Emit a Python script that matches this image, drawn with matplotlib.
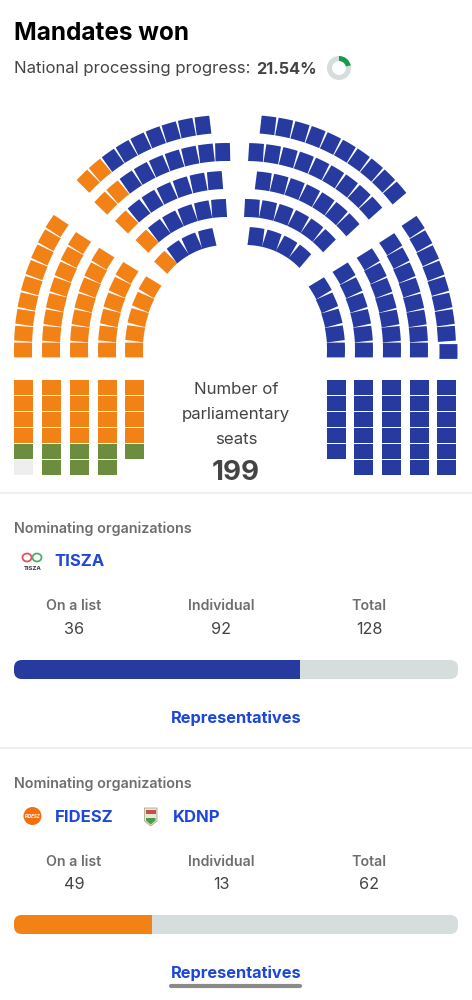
import numpy as np
import matplotlib
matplotlib.use("Agg")
import matplotlib.pyplot as plt
from matplotlib.patches import Polygon, Rectangle, Wedge, Ellipse, FancyBboxPatch

plt.rcParams['font.family'] = ['Inter', 'DejaVu Sans']

# seat data, rows go outer to inner
lower_left_seats = [9, 8, 7, 6, 5]
upper_left_seats = [9, 9, 7, 6, 4]
upper_left_orange = [2, 2, 1, 1, 1]
upper_right_seats = [10, 9, 7, 6, 4]
lower_right_seats = [9, 8, 7, 6, 5]
block_left_orange = [4, 4, 4, 4, 4]
block_left_green = [1, 2, 2, 2, 1]
block_left_empty = [1, 0, 0, 0, 0]
block_right_blue = [5, 6, 6, 6, 6]

progress = 21.54
total_seats = 199
column_names = ["On a list", "Individual", "Total"]
tisza_values = [36, 92, 128]
fidesz_values = [49, 13, 62]

BLUE = "#263a9f"
ORANGE = "#f28216"
GREEN = "#6c8c3e"
EMPTY = "#eeeeee"
TRACK = "#d5dddd"
LINK = "#1c47d8"
DARK = "#444444"
GREY = "#6e6e6e"

# layout, in pixels. each wing has its own arc centre
LOW_Y = 350
LOW_LEFT_X, LOW_RIGHT_X = 266, 206
LOW_LEFT_R = [243, 215, 187, 159, 132]
LOW_RIGHT_R = [241, 213, 186, 158, 130]
LOW_TOP = [30.7, 29.8, 29.2, 29.0, 28.4]
UP_Y = 320
UP_LEFT_X, UP_RIGHT_X = 226.5, 245.5
UP_R = [196, 168, 140, 112, 84]
UL_ANGLES = [(134.9, 96.9), (135.9, 91.3), (135.5, 94.7), (135.2, 93.8), (136.5, 103.3)]
UR_ANGLES = [(83.4, 40.4), (86.4, 41.8), (82.7, 42.9), (86.7, 45.2), (82.8, 49.6)]
SEAT_R, SEAT_T = 18, 14.8
LOW_TILT = 1.1

fig = plt.figure(figsize=(4.72, 10), dpi=100)
ax = fig.add_axes([0, 0, 1, 1])
ax.set_xlim(0, 472)
ax.set_ylim(1000, 0)
ax.axis("off")


def seat(cx, cy, radius, angle, color, facing=None, dx=0, dy=0):
    # facing is the direction the seat points at, it differs a bit from angle on the low wings
    if facing is None:
        facing = angle
    a = np.deg2rad(angle)
    f = np.deg2rad(facing)
    sx = cx + radius * np.cos(a) + dx
    sy = cy - radius * np.sin(a) + dy
    s = np.linspace(-SEAT_T / 2, SEAT_T / 2, 5)
    bend = -s ** 2 / (2 * radius)
    pts = []
    for off, sgn in [(SEAT_R / 2, 1), (-SEAT_R / 2, -1)]:
        u = off + bend
        for ui, si in list(zip(u, s))[::sgn]:
            pts.append((sx + ui * np.cos(f) - si * np.sin(f), sy - ui * np.sin(f) - si * np.cos(f)))
    ax.add_patch(Polygon(pts, closed=True, fc=color, ec="none"))


def block_seat(x, y, color):
    ax.add_patch(Rectangle((x - 9.5, y - 7.5), 19, 15, fc=color, ec="none"))


# curved rows
for i, n in enumerate(lower_left_seats):
    for a in np.linspace(0, LOW_TOP[i], n):
        seat(LOW_LEFT_X, LOW_Y, LOW_LEFT_R[i], 180 - a, ORANGE, facing=180 - a * LOW_TILT)

for i, n in enumerate(upper_left_seats):
    angles = np.linspace(UL_ANGLES[i][0], UL_ANGLES[i][1], n)
    for j, a in enumerate(angles):
        seat(UP_LEFT_X, UP_Y, UP_R[i], a, ORANGE if j < upper_left_orange[i] else BLUE)

for i, n in enumerate(upper_right_seats):
    for a in np.linspace(UR_ANGLES[i][0], UR_ANGLES[i][1], n):
        seat(UP_RIGHT_X, UP_Y, UP_R[i], a, BLUE)

for i, n in enumerate(lower_right_seats):
    angles = np.linspace(LOW_TOP[i], 0, n)
    for j, a in enumerate(angles):
        # the last outer seat sits a bit off the arc in the original
        nudge = (1.5, 1.5) if i == 0 and j == n - 1 else (0, 0)
        seat(LOW_RIGHT_X, LOW_Y, LOW_RIGHT_R[i], a, BLUE, facing=a * LOW_TILT, dx=nudge[0], dy=nudge[1])

# straight blocks under the arcs
row_y = 387 + 16.15 * np.arange(6)
left_x = [23.5, 51.5, 79.5, 107, 134.5]
right_x = [336, 363.5, 391.5, 419, 446]
for col, x in enumerate(left_x):
    colors = [ORANGE] * block_left_orange[col] + [GREEN] * block_left_green[col] + [EMPTY] * block_left_empty[col]
    for y, c in zip(row_y, colors):
        block_seat(x, y, c)
for col, x in enumerate(right_x):
    for y in row_y[:block_right_blue[col]]:
        block_seat(x, y, BLUE)

# header
ax.text(14, 33, "Mandates won", fontsize=17.5, fontweight="bold", color="black", va="center")
ax.text(14, 69, "National processing progress:", fontsize=12, color=DARK, va="center")
ax.text(256, 69, f"{progress}%", fontsize=11.7, fontweight="bold", color=DARK, va="center")
ax.add_patch(Wedge((339, 68), 12, 0, 360, width=5, fc=TRACK, ec="none"))
ax.add_patch(Wedge((339, 68), 12, -90, -90 + 3.6 * progress, width=5, fc="#1a9a4f", ec="none"))

# centre label
for y, line in zip([389.5, 414.5, 439.5], ["Number of", "parliamentary", "seats"]):
    ax.text(236, y, line, fontsize=12.1, color=DARK, ha="center", va="center")
ax.text(236, 473.5, str(total_seats), fontsize=20, fontweight="bold", color=DARK, ha="center", va="center")


def party_panel(top, values, color):
    ax.text(14, top + 37, "Nominating organizations", fontsize=10.3, fontweight="semibold", color=GREY, va="center")
    for x, name, val in zip([74, 221, 369], column_names, values):
        ax.text(x, top + 114.5, name, fontsize=10.2, fontweight="semibold", color=GREY, ha="center", va="center")
        ax.text(x, top + 137.5, str(val), fontsize=11.7, color=DARK, ha="center", va="center")
    track = FancyBboxPatch((14, top + 168), 444, 19, boxstyle="round,pad=0,rounding_size=8",
                           fc=TRACK, ec="none", mutation_aspect=1)
    ax.add_patch(track)
    bars = ax.barh(top + 177.5, values[2] / total_seats * 444, left=14, height=19, color=color)
    bars[0].set_clip_path(track)
    ax.text(236, top + 226, "Representatives", fontsize=11.8, fontweight="bold", color=LINK, ha="center", va="center")


ax.plot([0, 472], [492.5, 492.5], color="#efefef", lw=1.5)
party_panel(492, tisza_values, BLUE)
ax.plot([0, 472], [747.5, 747.5], color="#efefef", lw=1.5)
party_panel(747, fidesz_values, ORANGE)

# TISZA logo
ax.add_patch(Ellipse((27, 557.5), 9, 8, fc="none", ec="#e8505b", lw=1.3))
ax.add_patch(Ellipse((37, 557.5), 9, 8, fc="none", ec="#4fae6a", lw=1.3))
ax.text(32.5, 568, "TISZA", fontsize=4.3, fontweight="bold", color="#263238", ha="center", va="center")
ax.text(54.5, 562, "TISZA", fontsize=12, fontweight="bold", color=LINK, va="center")

# FIDESZ and KDNP logos
ax.add_patch(Ellipse((32.5, 816), 18, 18, fc="#f4700f", ec="none"))
ax.text(32.5, 816, "FIDESZ", fontsize=3.2, fontweight="bold", style="italic", color="white", ha="center", va="center")
ax.text(54.5, 817, "FIDESZ", fontsize=12, fontweight="bold", color=LINK, va="center")

ax.add_patch(Polygon([(144.5, 808), (157, 808), (157, 821), (150.7, 826), (144.5, 821)], closed=True,
                     fc="#e9e6d8", ec="#a9a98a", lw=0.6))
ax.add_patch(Rectangle((146, 809.5), 9.5, 4, fc="#c0504a", ec="none"))
ax.add_patch(Polygon([(146, 818), (155.5, 818), (155.5, 820.5), (150.7, 824.5), (146, 820.5)], closed=True,
                     fc="#4c9a4a", ec="none"))
ax.text(173, 817, "KDNP", fontsize=12, fontweight="bold", color=LINK, va="center")

# phone home indicator
ax.plot([171, 300], [986, 986], color="#8a8a8a", lw=3, solid_capstyle="round")

fig.savefig("out.png", dpi=100)
